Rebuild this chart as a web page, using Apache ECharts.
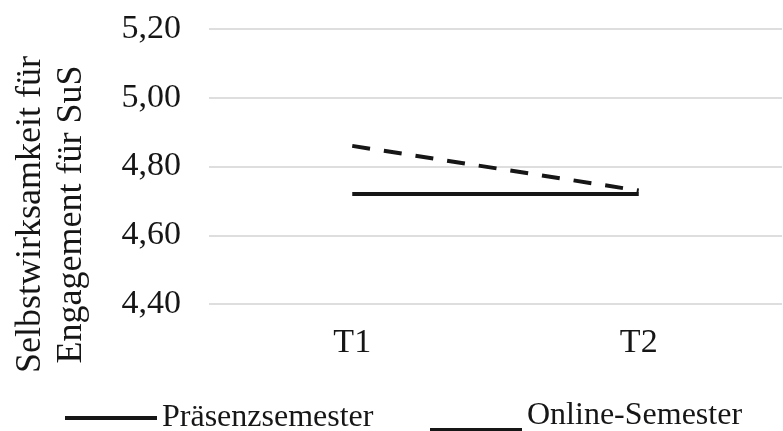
<!DOCTYPE html>
<html>
<head>
<meta charset="utf-8">
<script src="https://cdn.jsdelivr.net/npm/echarts@6/dist/echarts.min.js"></script>
<style>
  html, body { margin: 0; padding: 0; background: #fff; }
  #main { width: 783px; height: 431px; }
</style>
</head>
<body>
<div id="main"></div>
<script>
var categories = ['T1', 'T2'];
var praesenz = [4.72, 4.72];
var online = [4.86, 4.73];
var yTicks = { min: 4.4, max: 5.2, step: 0.2 };

var ink = '#161616';
var font = '"Liberation Serif", "Times New Roman", serif';

var myChart = echarts.init(document.getElementById('main'));
var option = {
    animation: false,
    textStyle: { fontFamily: font, color: ink },
    grid: { left: 209, right: 1, top: 29, bottom: 127, containLabel: false, outerBoundsMode: 'none' },
    xAxis: {
        type: 'category',
        data: categories,
        boundaryGap: true,
        axisLine: { show: false },
        axisTick: { show: false },
        axisLabel: { color: ink, fontFamily: font, fontSize: 34, margin: 22 }
    },
    yAxis: {
        type: 'value',
        min: yTicks.min,
        max: yTicks.max,
        interval: yTicks.step,
        axisLine: { show: false },
        axisTick: { show: false },
        splitLine: { lineStyle: { color: '#dedede', width: 2 } },
        axisLabel: {
            color: ink, fontFamily: font, fontSize: 34, margin: 28,
            formatter: function (v) { return v.toFixed(2).replace('.', ','); }
        },
        name: 'Selbstwirksamkeit für\nEngagement für SuS',
        nameLocation: 'middle',
        nameRotate: 90,
        nameGap: 117,
        nameTextStyle: {
            color: ink, fontFamily: font, fontSize: 36, lineHeight: 41,
            padding: [0, 96, 0, 0]
        }
    },
    legend: [{
        data: [{ name: 'Präsenzsemester', icon: 'rect' }],
        left: 60,
        top: 397,
        itemWidth: 92,
        itemHeight: 4,
        itemStyle: { borderWidth: 0 },
        textStyle: { color: ink, fontFamily: font, fontSize: 32, padding: [0, 0, 4, 0] }
    }, {
        data: [{ name: 'Online-Semester', icon: 'path://M0,0 L1,0 L1,0 Z M0,28 L92,28 L92,32 L0,32 Z' }],
        left: 425,
        top: 395,
        itemWidth: 92,
        itemHeight: 32,
        symbolKeepAspect: false,
        itemStyle: { borderWidth: 0 },
        textStyle: { color: ink, fontFamily: font, fontSize: 32, padding: [0, 0, 4, 0] }
    }],
    series: [{
        name: 'Präsenzsemester',
        type: 'line',
        data: praesenz,
        symbol: 'none',
        color: ink,
        lineStyle: { color: ink, width: 4 }
    }, {
        name: 'Online-Semester',
        type: 'line',
        data: online,
        symbol: 'none',
        color: ink,
        lineStyle: { color: ink, width: 4, type: [18, 14] }
    }]
};
myChart.setOption(option);
</script>
</body>
</html>
